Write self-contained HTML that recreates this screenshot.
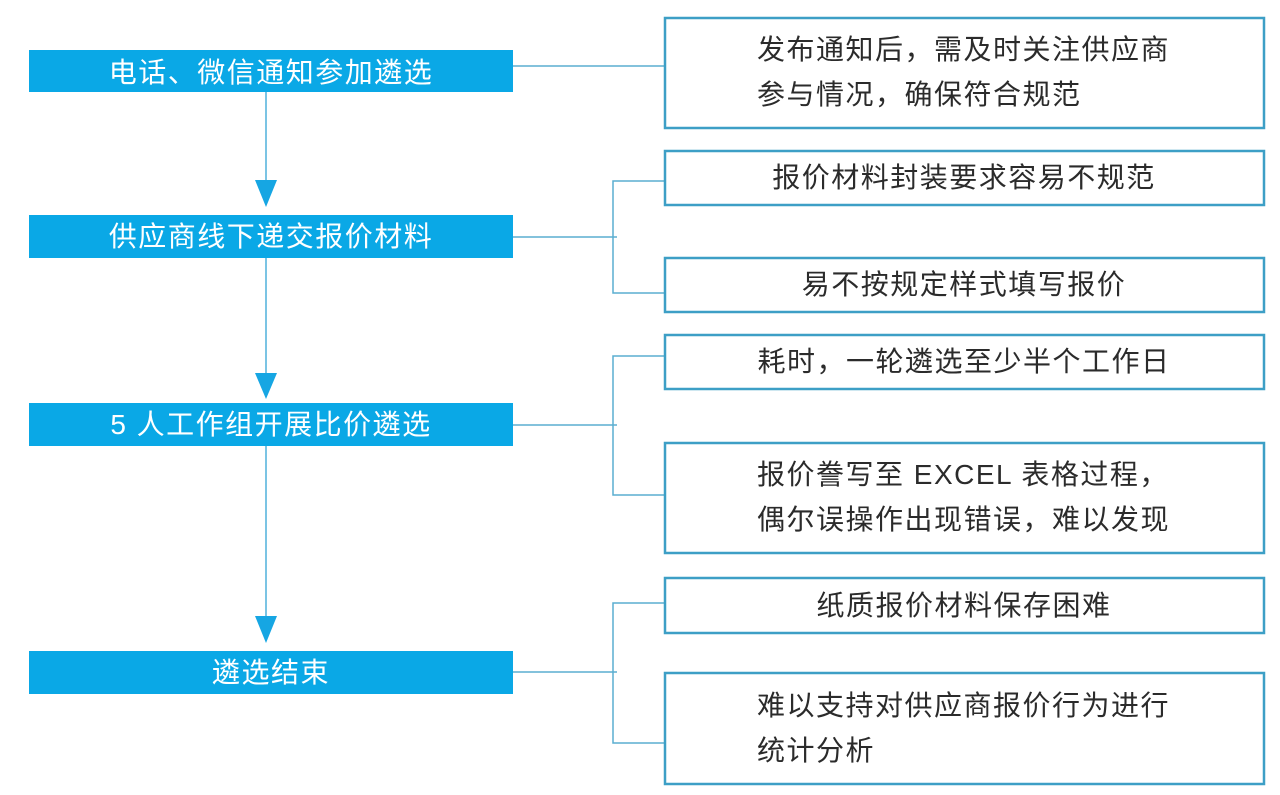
<!DOCTYPE html>
<html>
<head>
<meta charset="utf-8">
<style>
  html,body{margin:0;padding:0;background:#fff;}
  #wrap{position:relative;width:1280px;height:795px;overflow:hidden;background:#fff;}
  svg{position:absolute;left:0;top:0;}
  .t{position:absolute;font-family:"Liberation Sans","Noto Sans CJK SC",sans-serif;font-size:28px;letter-spacing:1.5px;white-space:nowrap;}
  .lb{color:#fff;left:29px;width:484px;text-align:center;line-height:43px;}
  .rb{color:#2b2b2b;left:664px;width:600px;text-align:center;}
  .ml{position:absolute;left:757px;color:#2b2b2b;line-height:45px;text-align:left;width:480px;}
</style>
</head>
<body>
<div id="wrap">
<svg width="1280" height="795" viewBox="0 0 1280 795">
  <!-- left blue boxes -->
  <g fill="#0aa8e6">
    <rect x="29" y="50" width="484" height="42"/>
    <rect x="29" y="215" width="484" height="43"/>
    <rect x="29" y="403" width="484" height="43"/>
    <rect x="29" y="651" width="484" height="43"/>
  </g>
  <!-- vertical arrows -->
  <g stroke="#5ab5de" stroke-width="1.6">
    <line x1="266" y1="92" x2="266" y2="182"/>
    <line x1="266" y1="258" x2="266" y2="375"/>
    <line x1="266" y1="446" x2="266" y2="618"/>
  </g>
  <g fill="#16a6e3">
    <polygon points="255,180 277,180 266,207"/>
    <polygon points="255,373 277,373 266,399"/>
    <polygon points="255,616 277,616 266,643"/>
  </g>
  <!-- connectors -->
  <g stroke="#5aaed0" stroke-width="1.5" fill="none">
    <line x1="513" y1="66" x2="669" y2="66"/>
    <line x1="513" y1="237" x2="617" y2="237"/>
    <polyline points="664,181 613,181 613,293 664,293"/>
    <line x1="513" y1="425" x2="617" y2="425"/>
    <polyline points="664,356 613,356 613,495 664,495"/>
    <line x1="513" y1="672" x2="617" y2="672"/>
    <polyline points="664,603 613,603 613,743 664,743"/>
  </g>
  <!-- right boxes -->
  <g stroke="#3d9fc6" stroke-width="2.5" fill="#fff">
    <rect x="665" y="18" width="599" height="110"/>
    <rect x="665" y="151" width="599" height="54"/>
    <rect x="665" y="258" width="599" height="54"/>
    <rect x="665" y="335" width="599" height="54"/>
    <rect x="665" y="443" width="599" height="110"/>
    <rect x="665" y="578" width="599" height="55"/>
    <rect x="665" y="673" width="599" height="111"/>
  </g>
</svg>

<!-- left labels -->
<div class="t lb" style="top:51px;">电话、微信通知参加遴选</div>
<div class="t lb" style="top:215px;">供应商线下递交报价材料</div>
<div class="t lb" style="top:403px;">5 人工作组开展比价遴选</div>
<div class="t lb" style="top:651px;">遴选结束</div>

<!-- right labels -->
<div class="t ml" style="top:27px;">发布通知后，需及时关注供应商<br>参与情况，确保符合规范</div>
<div class="t rb" style="top:151px;line-height:54px;">报价材料封装要求容易不规范</div>
<div class="t rb" style="top:258px;line-height:54px;">易不按规定样式填写报价</div>
<div class="t rb" style="top:335px;line-height:54px;">耗时，一轮遴选至少半个工作日</div>
<div class="t ml" style="top:452px;">报价誊写至 EXCEL 表格过程，<br>偶尔误操作出现错误，难以发现</div>
<div class="t rb" style="top:578px;line-height:55px;">纸质报价材料保存困难</div>
<div class="t ml" style="top:683px;">难以支持对供应商报价行为进行<br>统计分析</div>
</div>
</body>
</html>
